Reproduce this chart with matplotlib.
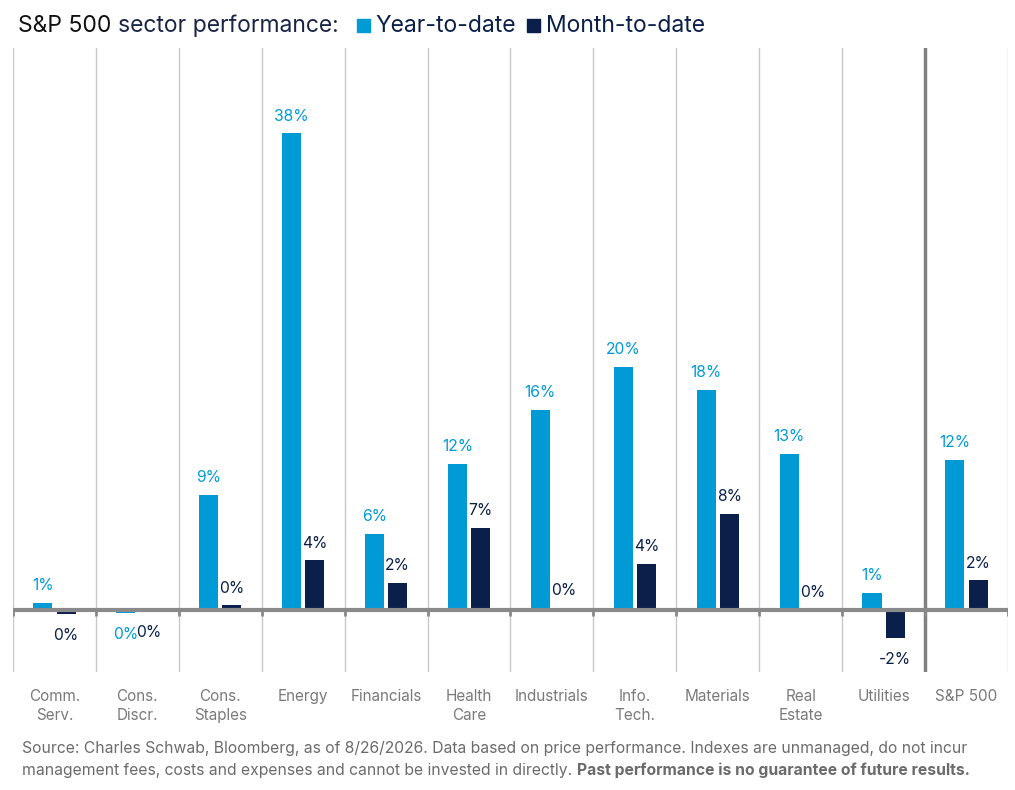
import matplotlib
matplotlib.use("Agg")
import matplotlib.pyplot as plt
import numpy as np

categories = ["Comm.\nServ.", "Cons.\nDiscr.", "Cons.\nStaples", "Energy", "Financials",
              "Health\nCare", "Industrials", "Info.\nTech.", "Materials", "Real\nEstate",
              "Utilities", "S&P 500"]
ytd = [0.6, -0.2, 9.2, 38.0, 6.1, 11.7, 16.0, 19.4, 17.6, 12.5, 1.4, 12.0]
mtd = [-0.3, -0.05, 0.4, 4.0, 2.2, 6.6, 0.2, 3.7, 7.7, 0.1, -2.2, 2.4]
ytd_labels = ["1%", "0%", "9%", "38%", "6%", "12%", "16%", "20%", "18%", "13%", "1%", "12%"]
mtd_labels = ["0%", "0%", "0%", "4%", "2%", "7%", "0%", "4%", "8%", "0%", "-2%", "2%"]

BLUE = "#009bd6"
NAVY = "#0a1f4a"
GRAY = "#7a7a7a"
FONT = "Inter"

plt.rcParams["font.family"] = [FONT, "DejaVu Sans"]

W, H = 1015, 790
fig = plt.figure(figsize=(W / 100, H / 100), dpi=100)
ax = fig.add_axes([13 / W, 1 - 672 / H, (1008 - 13) / W, (672 - 48) / H])

n = len(categories)
x = np.arange(n)
bw = 0.23
off = 0.14
ax.bar(x - off, ytd, width=bw, color=BLUE, zorder=3)
ax.bar(x + off, mtd, width=bw, color=NAVY, zorder=3)

ax.set_xlim(-0.5, n - 0.5)
ax.set_ylim(-4.9, 44.8)

# vertical separators
for b in np.arange(-0.5, n, 1.0):
    if abs(b - (n - 1.5)) < 1e-9:
        ax.axvline(b, color="#808080", lw=2.5, zorder=2)
    else:
        ax.axvline(b, color="#c8c8c8", lw=1.0, zorder=1)

# zero line with small ticks
ax.axhline(0, color="#8a8a8a", lw=3, zorder=4)
for b in np.arange(-0.5, n, 1.0):
    ax.plot([b, b], [-0.45, 0.0], color="#8a8a8a", lw=2, zorder=4, solid_capstyle="butt")

for s in ax.spines.values():
    s.set_visible(False)
ax.set_yticks([])
ax.set_xticks(x)
ax.set_xticklabels(categories, fontsize=11, color=GRAY, linespacing=1.35, va="top")
ax.tick_params(axis="x", length=0, pad=12)

def label(xpos, val, txt, color):
    if val >= 0:
        ax.annotate(txt, (xpos, val), xytext=(0, 7), textcoords="offset points",
                    ha="center", va="bottom", fontsize=11.3, color=color, zorder=5)
    else:
        ax.annotate(txt, (xpos, val), xytext=(0, -10), textcoords="offset points",
                    ha="center", va="top", fontsize=11.3, color=color, zorder=5)

for i in range(n):
    label(x[i] - off, ytd[i], ytd_labels[i], BLUE)
    label(x[i] + off, mtd[i], mtd_labels[i], NAVY)

# title with inline legend
fig.canvas.draw()
r = fig.canvas.get_renderer()
ty = 1 - 32 / H
tfs = 16.5
xpix = 18
parts = [("S&P 500 ", "#111111"), ("sector performance:", "#1a2545")]
for txt, col in parts:
    t = fig.text(xpix / W, ty, txt, fontsize=tfs, color=col, ha="left", va="baseline")
    bb = t.get_window_extent(r)
    xpix = bb.x1
xpix += 18
items = [("Year-to-date", BLUE), ("Month-to-date", NAVY)]
for lab, col in items:
    sq = 13
    fig.patches.append(plt.Rectangle((xpix / W, (H - 32) / H), sq / W, sq / H,
                                     transform=fig.transFigure, color=col, figure=fig))
    tt = fig.text((xpix + sq + 6) / W, ty, lab, fontsize=tfs, color=NAVY,
                  ha="left", va="baseline")
    bb = tt.get_window_extent(r)
    xpix = bb.x1 + 11

# footer
fs = 11.3
l1 = ("Source: Charles Schwab, Bloomberg, as of 8/26/2026. Data based on price performance. "
      "Indexes are unmanaged, do not incur")
l2a = "management fees, costs and expenses and cannot be invested in directly. "
l2b = "Past performance is no guarantee of future results."
fig.text(22 / W, 1 - 753 / H, l1, fontsize=fs, color="#6b6b6b", ha="left", va="baseline")
f2 = fig.text(22 / W, 1 - 775 / H, l2a, fontsize=fs, color="#6b6b6b", ha="left", va="baseline")
bb = f2.get_window_extent(r)
fig.text(bb.x1 / W, 1 - 775 / H, l2b, fontsize=fs, color="#6b6b6b", ha="left",
         va="baseline", fontweight="bold")

fig.savefig("out.png", dpi=100)
